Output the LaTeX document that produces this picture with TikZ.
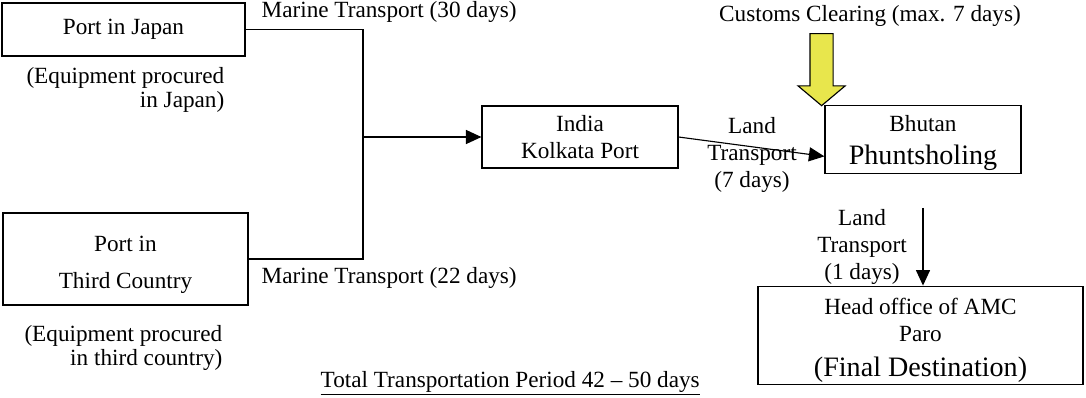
\documentclass[tikz,border=0pt]{standalone}
\usepackage{fontspec}
\setmainfont{Liberation Serif}
\usetikzlibrary{positioning, arrows.meta, shapes.arrows, calc}
\definecolor{clearyellow}{RGB}{232,230,76}
\newcommand{\bigtxt}{\fontsize{20}{22}\selectfont}
\tikzset{
    portbox/.style={draw, line width=0.8pt, align=center, inner sep=2pt, font=\fontsize{16.5}{19.5}\selectfont},
    flow/.style={-{Triangle[length=11pt, width=10pt]}, line width=0.8pt},
    leg/.style={line width=0.8pt},
    lbl/.style={align=center, inner sep=1pt, font=\fontsize{16.5}{19.5}\selectfont},
    note/.style={align=right, inner sep=1pt, font=\fontsize{16.5}{17}\selectfont},
    customs/.style={single arrow, draw, line width=0.8pt, fill=clearyellow, rotate=-90, inner xsep=0pt, inner ysep=0.275cm,
        minimum height=1.8cm, single arrow head extend=0.3cm, single arrow tip angle=100},
}

\begin{document}
\begin{tikzpicture}[x=0.025cm, y=-0.025cm]
    \useasboundingbox (0,0) rectangle (1086,397);
    % ports of origin
    \node[portbox, minimum width=6.075cm, minimum height=1.325cm] (jp) at (123.5,29.5) {Port in Japan};
    \node[portbox, minimum width=6.125cm, minimum height=2.3cm, text height=46pt] (tc) at (125.5,259) {Port in\\[7pt]Third Country};
    \node[note, anchor=east] (jpnote) at (226,90) {(Equipment procured\\in Japan)};
    \node[note, anchor=east] (tcnote) at (224,348) {(Equipment procured\\in third country)};
    % transit and destination
    \node[portbox, minimum width=4.9cm, minimum height=1.55cm] (kol) at (580,137) {India\\Kolkata Port};
    \node[portbox, minimum width=4.9cm, minimum height=1.675cm, text height=40pt] (bhu) at (923,139.5) {Bhutan\\[4pt]{\bigtxt Phuntsholing}};
    \node[portbox, minimum width=8.125cm, minimum height=2.375cm, text height=62pt] (hq) at (920.5,335.5) {Head office of AMC\\Paro\\[5pt]{\bigtxt (Final Destination)}};
    \coordinate (jn) at (363,137);
    \draw[leg] (jp.east) -| (jn);
    \draw[leg] (tc.east) -| (jn);
    \draw[flow] (jn) -- (kol.west);
    \draw[flow] (kol.east) -- ([yshift=-12pt]bhu.west);
    \draw[flow] ([yshift=-24pt]bhu.south) -- (bhu.south |- hq.north);
    \node[customs, anchor=tip] (clr) at ([xshift=-2pt, yshift=-1pt]bhu.north west) {};
    % labels
    \node[lbl, anchor=west] (sea1) at (260,12) {Marine Transport (30 days)};
    \node[lbl, anchor=west] (sea2) at (260,278) {Marine Transport (22 days)};
    \node[lbl] (land1) at (752,155) {Land\\Transport\\(7 days)};
    \node[lbl] (land2) at (862,247) {Land\\Transport\\(1 days)};
    \node[lbl] (clrlbl) at (870,16) {Customs Clearing (max. 7 days)};
    \node[lbl, anchor=west] (total) at (319,383) {\underline{Total Transportation Period 42 -- 50 days}};
\end{tikzpicture}
\end{document}
